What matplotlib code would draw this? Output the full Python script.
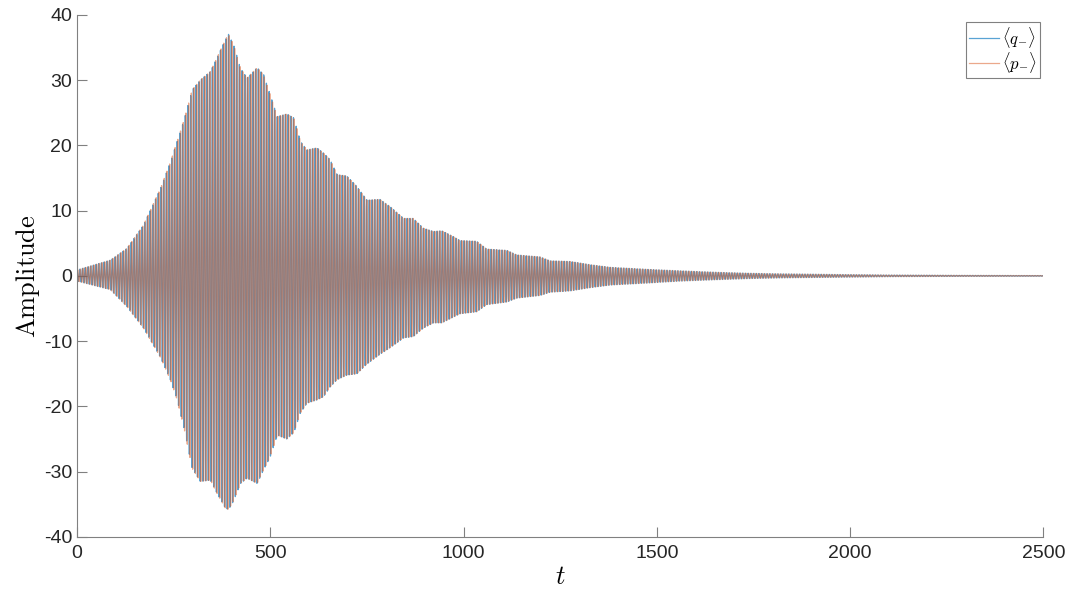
import matplotlib
matplotlib.use("Agg")
import matplotlib.pyplot as plt
import numpy as np

plt.rcParams['mathtext.fontset'] = 'cm'
plt.rcParams['font.family'] = ['Liberation Sans', 'DejaVu Sans']
plt.rcParams['axes.unicode_minus'] = False

# envelope of the oscillation (peak amplitude above / below zero) at sample times
env_t = [0, 86, 129, 172, 216, 242, 259, 276, 298, 319, 345, 362, 384, 392, 405, 423,
         440, 466, 483, 500, 518, 543, 561, 578, 595, 621, 638, 655, 673, 698, 724, 750,
         784, 810, 845, 870, 896, 922, 944, 974, 991, 1034, 1060, 1112, 1138, 1198, 1224,
         1276, 1328, 1380, 1474, 1560, 1646, 1733, 1820, 1975, 2100, 2300, 2500]
env_upper = [0.9, 2.4, 4.2, 7.8, 13.4, 17.5, 20.6, 23.7, 28.5, 30.0, 31.3, 33.4, 36.2, 37.0,
             35.4, 31.8, 30.3, 31.9, 30.8, 27.7, 24.4, 24.8, 24.2, 20.6, 19.3, 19.6, 18.8,
             17.8, 15.5, 15.3, 13.7, 11.6, 11.7, 10.6, 8.8, 8.8, 7.3, 6.8, 6.9, 6.0, 5.4,
             5.3, 4.1, 3.9, 3.2, 2.9, 2.3, 2.2, 1.7, 1.3, 1.0, 0.77, 0.56, 0.4, 0.3, 0.2,
             0.12, 0.07, 0.05]
env_lower = [0.8, 2.1, 4.7, 8.0, 12.5, 16.0, 19.0, 23.1, 29.5, 31.5, 31.3, 33.3, 35.6, 35.8,
             34.5, 31.8, 31.0, 31.8, 29.7, 27.7, 24.4, 25.0, 24.0, 21.0, 19.5, 19.0, 18.5,
             17.0, 15.9, 15.2, 15.0, 13.5, 12.0, 11.0, 9.5, 9.3, 8.0, 7.2, 7.2, 6.3, 5.8,
             5.5, 4.4, 4.0, 3.4, 3.0, 2.5, 2.3, 1.8, 1.4, 1.1, 0.8, 0.6, 0.42, 0.3, 0.2,
             0.12, 0.07, 0.05]
period = 7.0          # oscillation period in t
t_end = 2500

t = np.arange(0, t_end + 0.01, 0.25)
up = np.interp(t, env_t, env_upper)
lo = np.interp(t, env_t, env_lower)
phase = 2 * np.pi * t / period
cq = np.cos(phase)
cp = np.sin(phase)
q = np.where(cq >= 0, up * cq, lo * cq)
p = np.where(cp >= 0, up * cp, lo * cp)

fig = plt.figure(figsize=(10.7, 5.92), dpi=100)
ax = fig.add_axes([0.072, 0.093, 0.903, 0.882])
ax.plot(t, q, color='#0072BD', lw=0.9, alpha=0.65, label=r'$\langle q_{-}\rangle$')
ax.plot(t, p, color='#D95319', lw=0.9, alpha=0.5, label=r'$\langle p_{-}\rangle$')

ax.set_xlim(0, 2500)
ax.set_ylim(-40, 40)
ax.set_xticks(np.arange(0, 2501, 500))
ax.set_yticks(np.arange(-40, 41, 10))
for s in ['top', 'right']:
    ax.spines[s].set_visible(False)
for s in ['left', 'bottom']:
    ax.spines[s].set_color('#808080')
    ax.spines[s].set_linewidth(0.8)
ax.tick_params(direction='in', length=7, width=0.8, color='#808080',
               labelsize=14, labelcolor='#262626')
ax.tick_params(axis='x', pad=6)
ax.set_xlabel(r'$t$', fontsize=19, labelpad=2)
ax.set_ylabel(r'$\mathrm{Amplitude}$', fontsize=19, labelpad=1)

leg = ax.legend(loc='upper right', bbox_to_anchor=(0.997, 0.987), fontsize=12,
                fancybox=False, framealpha=1, edgecolor='#808080', handlelength=1.8,
                borderpad=0.2, labelspacing=0.0, handletextpad=0.2, borderaxespad=0)
leg.get_frame().set_linewidth(0.8)
for h in leg.get_lines():
    h.set_linewidth(0.9)

fig.savefig('out.png', dpi=100)
